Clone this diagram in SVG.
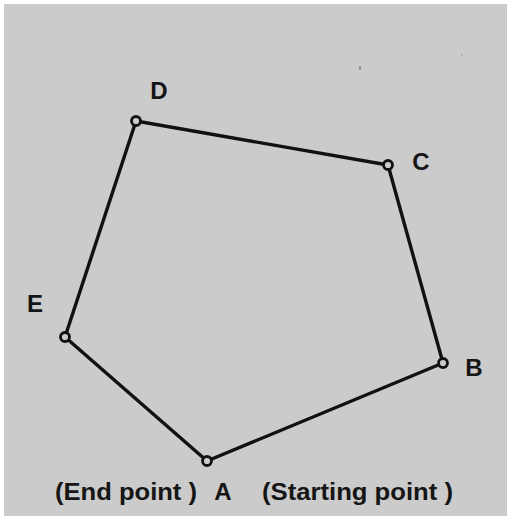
<svg xmlns="http://www.w3.org/2000/svg" width="507" height="516" viewBox="0 0 507 516">
<style>
.edge{stroke:#111;stroke-width:3.4;fill:none;stroke-linecap:round}
.pt{fill:#cbcbcb;stroke:#111;stroke-width:2.8}
.lbl{font-family:"Liberation Sans",Arial,sans-serif;font-weight:bold;font-size:24px;fill:#151515}
</style>
<rect x="0" y="0" width="507" height="516" fill="#ffffff"/>
<rect x="4" y="4" width="503" height="512" fill="#cbcbcb"/>
<ellipse cx="360" cy="68" rx="1.2" ry="2" fill="#888"/>
<ellipse cx="462" cy="55" rx="1" ry="1" fill="#aaa"/>
<g id="connectors">
<line class="edge" x1="207" y1="461" x2="443" y2="363"/>
<line class="edge" x1="443" y1="363" x2="388" y2="165"/>
<line class="edge" x1="388" y1="165" x2="136" y2="121"/>
<line class="edge" x1="136" y1="121" x2="65" y2="337"/>
<line class="edge" x1="65" y1="337" x2="207" y2="461"/>
</g>
<g id="A"><circle class="pt" cx="207" cy="461" r="4.5"/><text class="lbl" x="223" y="500" text-anchor="middle">A</text></g>
<g id="B"><circle class="pt" cx="443" cy="363" r="4.5"/><text class="lbl" x="474" y="376" text-anchor="middle">B</text></g>
<g id="C"><circle class="pt" cx="388" cy="165" r="4.5"/><text class="lbl" x="421" y="170" text-anchor="middle">C</text></g>
<g id="D"><circle class="pt" cx="136" cy="121" r="4.5"/><text class="lbl" x="159" y="99" text-anchor="middle">D</text></g>
<g id="E"><circle class="pt" cx="65" cy="337" r="4.5"/><text class="lbl" x="35" y="312" text-anchor="middle">E</text></g>
<g id="notes">
<text class="lbl" x="55" y="500" textLength="142" lengthAdjust="spacingAndGlyphs">(End point )</text>
<text class="lbl" x="262" y="500" textLength="191" lengthAdjust="spacingAndGlyphs">(Starting point )</text>
</g>
</svg>
